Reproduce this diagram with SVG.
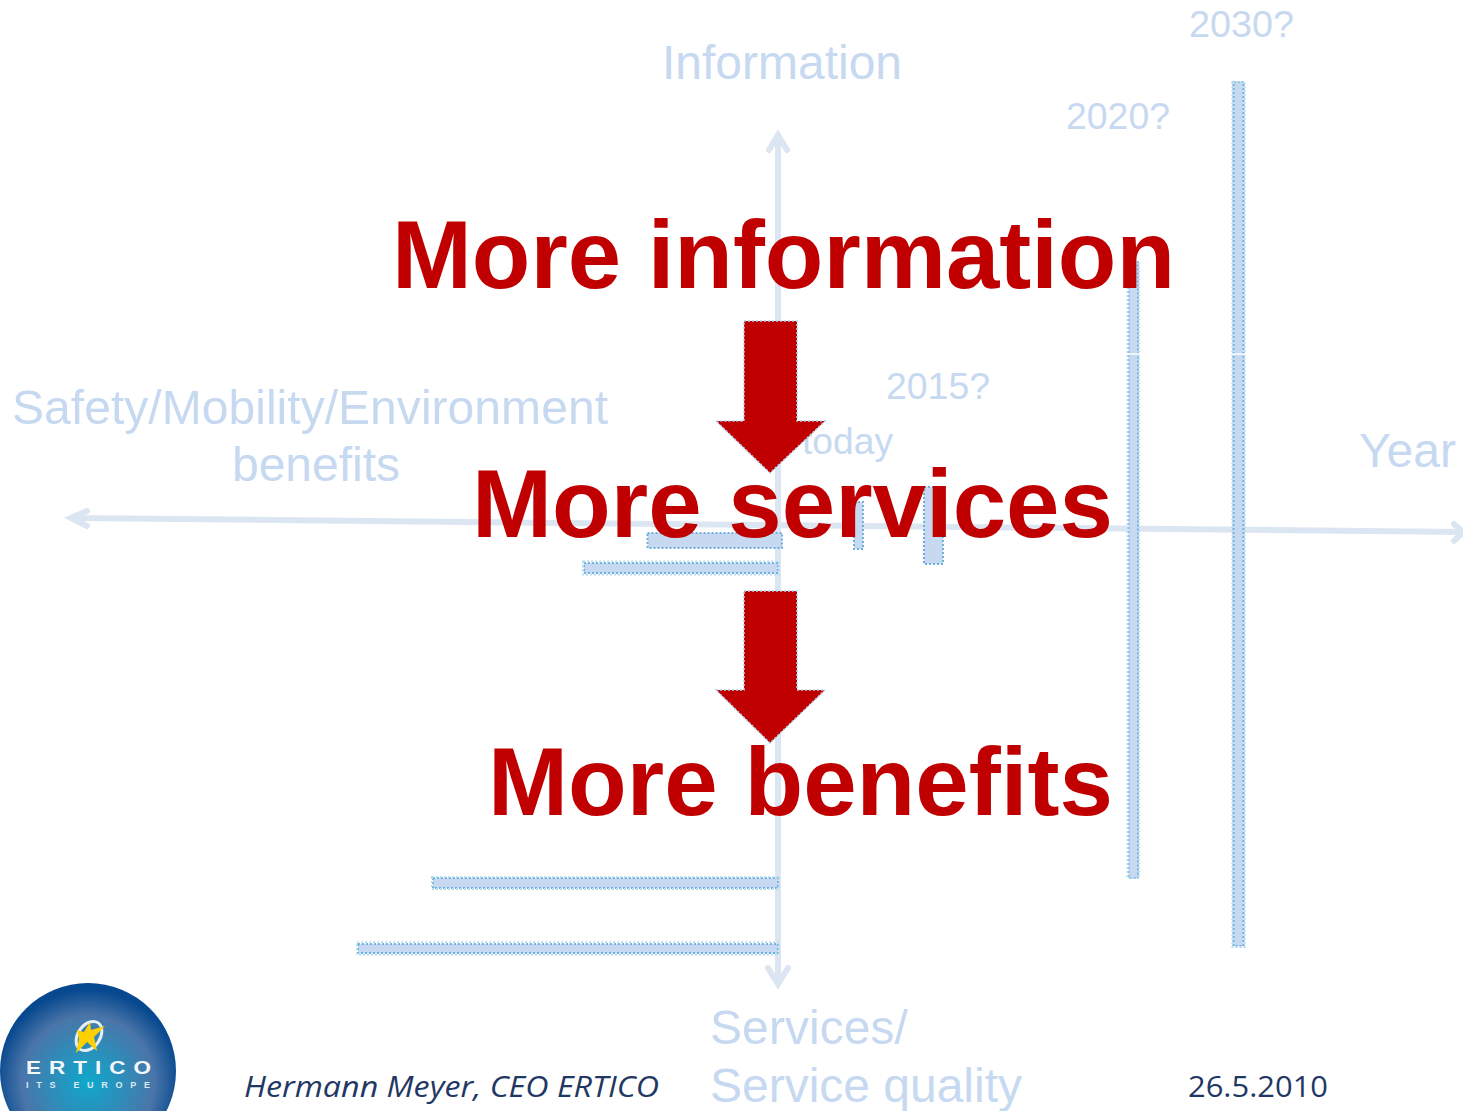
<svg xmlns="http://www.w3.org/2000/svg" width="1463" height="1111" viewBox="0 0 1463 1111">
<style>
text{font-family:"Liberation Sans",Arial,sans-serif}
.lab{fill:#c6d9f1}
.l47{font-size:48px}
.l36{font-size:37px}
.big{font-weight:700;font-size:96px;fill:#c00000}
.foot{font-family:"Open Sans","Noto Sans",sans-serif;font-size:30px;fill:#1f3864}
.axis{fill:none;stroke:#dce6f2;stroke-width:6}
.head{fill:none;stroke:#dce6f2;stroke-width:6;stroke-linecap:round;stroke-linejoin:miter}
.bar{fill:#c6d9f1;stroke:#6fb0de;stroke-width:2;stroke-dasharray:2 2}
.bar2{fill:none;stroke:#b5dcef;stroke-width:2;stroke-dasharray:2 2}
.cut{stroke:#fff;stroke-width:1.5}
.down{fill:#c00000;stroke:#a9d3ec;stroke-width:1.5;stroke-dasharray:2 2}
</style>
<defs>
<radialGradient id="logoFill" gradientUnits="userSpaceOnUse" cx="88" cy="1082" r="92">
<stop offset="0" stop-color="#0fa8cc"/>
<stop offset="0.35" stop-color="#2a90bb"/>
<stop offset="0.72" stop-color="#4a75a9"/>
<stop offset="1" stop-color="#07498f"/>
</radialGradient>
</defs>
<rect width="1463" height="1111" fill="#fff"/>

<g id="connectors">
<path class="axis" d="M71 518L1463 532"/>
<path class="axis" d="M778 136V983"/>
<path class="head" d="M87 511L71 518L87 526"/>
<path class="head" d="M1454 524L1463 532L1454 541"/>
<path class="head" d="M769 150L778 135L787 150"/>
<path class="head" d="M768 968L778 984L788 968"/>
</g>

<g id="bar-today-benefit"><rect class="bar" x="647.500" y="533" width="134.500" height="15"/></g>
<g id="bar-today-info"><rect class="bar" x="584" y="563" width="194" height="10"/><rect class="bar2" x="583" y="561.500" width="196" height="13"/></g>
<g id="bar-2015-a"><rect class="bar" x="854" y="502" width="9" height="47"/></g>
<g id="bar-2015-b"><rect class="bar" x="924" y="487" width="19" height="77"/></g>
<g id="bar-2020-v"><rect class="bar" x="1128.500" y="262" width="9.500" height="616"/><rect class="bar2" x="1127.500" y="262" width="11.500" height="616"/><line class="cut" x1="1127" y1="354" x2="1140" y2="354"/></g>
<g id="bar-2030-v"><rect class="bar" x="1233.500" y="82" width="10" height="864"/><rect class="bar2" x="1232.500" y="82" width="12" height="865"/><line class="cut" x1="1231" y1="354" x2="1246" y2="354"/></g>
<g id="bar-2020-h"><rect class="bar" x="433" y="878" width="345" height="10"/><rect class="bar2" x="432" y="877" width="347" height="12"/></g>
<g id="bar-2030-h"><rect class="bar" x="358" y="944" width="420" height="9"/><rect class="bar2" x="357" y="942.500" width="422" height="12"/></g>

<g id="label-information"><text class="lab l47" x="662" y="79" textLength="240" lengthAdjust="spacingAndGlyphs">Information</text></g>
<g id="label-2030"><text class="lab l36" x="1189" y="37" textLength="105" lengthAdjust="spacingAndGlyphs">2030?</text></g>
<g id="label-2020"><text class="lab l36" x="1066" y="129" textLength="104" lengthAdjust="spacingAndGlyphs">2020?</text></g>
<g id="label-2015"><text class="lab l36" x="886" y="399" textLength="104" lengthAdjust="spacingAndGlyphs">2015?</text></g>
<g id="label-today"><text class="lab l36" x="802" y="454" textLength="91" lengthAdjust="spacingAndGlyphs">today</text></g>
<g id="label-year"><text class="lab l47" x="1359" y="467" textLength="97" lengthAdjust="spacingAndGlyphs">Year</text></g>
<g id="label-safety">
<text class="lab l47" x="12" y="424" textLength="596" lengthAdjust="spacingAndGlyphs">Safety/Mobility/Environment</text>
<text class="lab l47" x="232" y="481" textLength="168" lengthAdjust="spacingAndGlyphs">benefits</text>
</g>
<g id="label-services">
<text class="lab l47" x="710" y="1044" textLength="198" lengthAdjust="spacingAndGlyphs">Services/</text>
<text class="lab l47" x="710" y="1102" textLength="312" lengthAdjust="spacingAndGlyphs">Service quality</text>
</g>

<g id="arrow-1"><path class="down" d="M744 321H797V421H825L770 473L716 421H744Z"/></g>
<g id="arrow-2"><path class="down" d="M744 591H797V690H825L770 743L716 690H744Z"/></g>

<g id="more-information"><text class="big" x="392" y="288" textLength="783" lengthAdjust="spacingAndGlyphs">More information</text></g>
<g id="more-services"><text class="big" x="472" y="537" textLength="641" lengthAdjust="spacingAndGlyphs">More services</text></g>
<g id="more-benefits"><text class="big" x="488" y="815" textLength="625" lengthAdjust="spacingAndGlyphs">More benefits</text></g>

<g id="logo">
<circle cx="88" cy="1071" r="88" fill="url(#logoFill)"/>
<ellipse cx="89" cy="1036" rx="11" ry="16" transform="rotate(35 89 1036)" fill="none" stroke="#e4eef5" stroke-width="3"/>
<polygon points="105,1026 94,1037 97,1051 87,1042 76,1053 79,1039 77,1030 84,1032 90,1022 91,1030" fill="#fdd000"/>
<text transform="translate(26 1074) scale(1.25 1)" font-size="18" font-weight="700" fill="#f4f8fb" textLength="100" lengthAdjust="spacing">ERTICO</text>
<text x="26" y="1088" font-size="9" font-weight="700" fill="#dce9f2" textLength="124" lengthAdjust="spacing">ITS  EUROPE</text>
</g>
<g id="footer-author"><text class="foot" x="244" y="1097" font-style="italic" textLength="415" lengthAdjust="spacingAndGlyphs">Hermann Meyer, CEO ERTICO</text></g>
<g id="footer-date"><text class="foot" x="1188" y="1097" textLength="140" lengthAdjust="spacingAndGlyphs">26.5.2010</text></g>
</svg>
